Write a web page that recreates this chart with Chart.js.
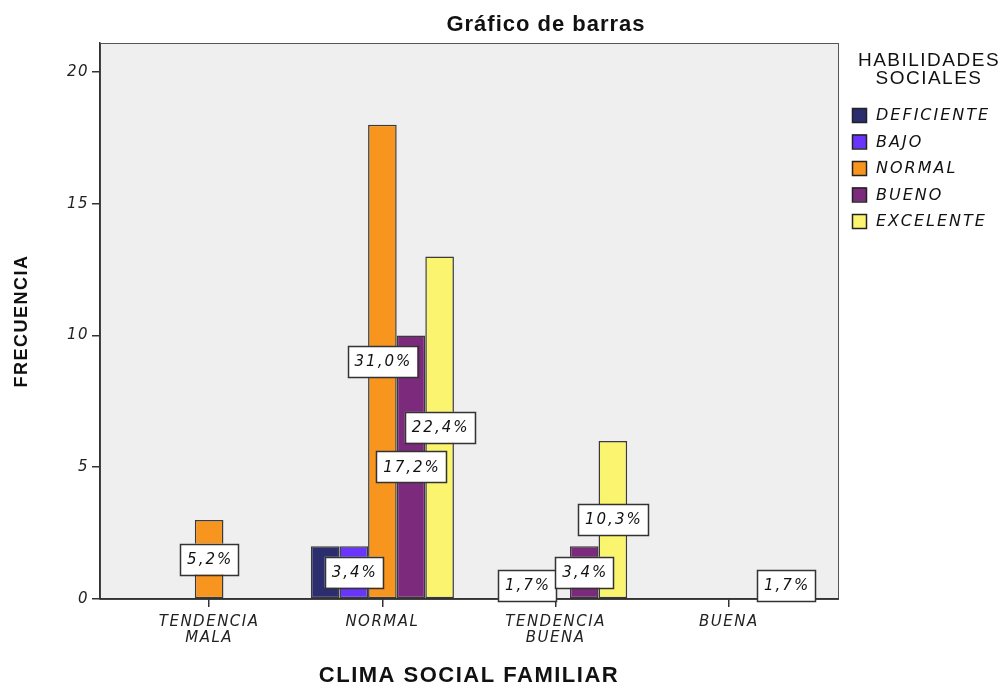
<!DOCTYPE html>
<html>
<head>
<meta charset="utf-8">
<script src="https://cdn.jsdelivr.net/npm/chart.js@4.4.0/dist/chart.umd.min.js"></script>
<style>
  body { margin: 0; background: #fff; }
</style>
</head>
<body>
<canvas id="chart" width="1008" height="689"></canvas>
<script>
// categories on the x axis (multi-line labels as arrays)
const categories = [['TENDENCIA', 'MALA'], 'NORMAL', ['TENDENCIA', 'BUENA'], 'BUENA'];
const seriesNames = ['DEFICIENTE', 'BAJO', 'NORMAL', 'BUENO', 'EXCELENTE'];

// frequencies per category, one array per series
const deficiente = [0, 2, 0, 0];
const bajo       = [0, 2, 1, 0];
const normal     = [3, 18, 0, 0];
const bueno      = [0, 10, 2, 0];
const excelente  = [0, 13, 6, 1];

const yTicks = [0, 5, 10, 15, 20];
// labels SPSS left out because they overlap: [series, category]
const hiddenLabels = [[0, 1]];

const seriesValues = [deficiente, bajo, normal, bueno, excelente];
const seriesColors = ['#2b2d6e', '#6a35fb', '#f7951f', '#7c2a7b', '#faf46e'];
const total = seriesValues.flat().reduce((a, b) => a + b, 0);

const labelFont = 'italic 15px "DejaVu Sans"';

const datasets = seriesNames.map((name, s) => ({
  label: name,
  data: seriesValues[s].map((v, i) => ({ x: i, y: v === 0 ? null : v })),
  backgroundColor: seriesColors[s],
  borderColor: '#3a3a3a',
  borderWidth: 1.5,
  borderSkipped: false,
  categoryPercentage: 0.826,
  barPercentage: 1
}));

const frame = {
  id: 'frame',
  beforeDraw(chart) {
    const { ctx, chartArea: a } = chart;
    ctx.save();
    ctx.fillStyle = '#efefef';
    ctx.fillRect(a.left, a.top, a.right - a.left, a.bottom - a.top);
    ctx.strokeStyle = '#555';
    ctx.lineWidth = 1;
    ctx.strokeRect(a.left + 0.5, a.top + 0.5, a.right - a.left, a.bottom - a.top);
    ctx.restore();
    // the source text is set wide; spread the letters
    ctx.letterSpacing = '1.5px';
  },
  afterDraw(chart) {
    const { ctx, chartArea: a } = chart;
    ctx.save();
    // title
    ctx.letterSpacing = '1px';
    ctx.fillStyle = '#111';
    ctx.font = 'bold 22px "Liberation Sans"';
    ctx.textAlign = 'center';
    ctx.textBaseline = 'middle';
    ctx.fillText('Gráfico de barras', 546, 25);
    // legend
    const lx = a.right + 14;
    ctx.letterSpacing = '1.5px';
    ctx.font = '19px "Liberation Sans"';
    ctx.fillText('HABILIDADES', lx + 77, 61);
    ctx.fillText('SOCIALES', lx + 77, 79);
    ctx.textAlign = 'left';
    ctx.letterSpacing = '2px';
    seriesNames.forEach((name, s) => {
      const y = 115 + s * 26.5;
      ctx.fillStyle = seriesColors[s];
      ctx.fillRect(lx, y - 7, 14, 14);
      ctx.strokeStyle = '#222';
      ctx.lineWidth = 1.5;
      ctx.strokeRect(lx + 0.5, y - 6.5, 14, 14);
      ctx.fillStyle = '#111';
      ctx.font = 'italic 16px "DejaVu Sans"';
      ctx.fillText(name, lx + 24, y + 1);
    });
    ctx.restore();
    ctx.letterSpacing = '0px';
  }
};

const pctLabels = {
  id: 'pctLabels',
  afterDatasetsDraw(chart) {
    const { ctx } = chart;
    ctx.save();
    ctx.font = labelFont;
    ctx.letterSpacing = '2px';
    ctx.textAlign = 'center';
    ctx.textBaseline = 'middle';
    chart.data.datasets.forEach((ds, s) => {
      chart.getDatasetMeta(s).data.forEach((el, i) => {
        const v = seriesValues[s][i];
        if (!v || hiddenLabels.some(h => h[0] === s && h[1] === i)) return;
        const txt = (v / total * 100).toFixed(1).replace('.', ',') + '%';
        const w = ctx.measureText(txt).width + 12;
        const h = 31;
        const cx = el.x, cy = (el.y + el.base) / 2;
        ctx.fillStyle = '#fff';
        ctx.fillRect(cx - w / 2, cy - h / 2, w, h);
        ctx.strokeStyle = '#333';
        ctx.lineWidth = 1.5;
        ctx.strokeRect(Math.round(cx - w / 2) + 0.5, Math.round(cy - h / 2) + 0.5, Math.round(w), h);
        ctx.fillStyle = '#111';
        ctx.fillText(txt, cx + 1, cy + 1);
      });
    });
    ctx.restore();
  }
};

new Chart(document.getElementById('chart'), {
  type: 'bar',
  data: { datasets },
  plugins: [frame, pctLabels],
  options: {
    responsive: false,
    animation: false,
    layout: { padding: { top: 43, right: 170, left: 0, bottom: 0 } },
    plugins: {
      legend: { display: false },
      tooltip: { enabled: false }
    },
    scales: {
      x: {
        type: 'linear',
        offset: false,
        min: -0.63,
        max: 3.63,
        afterBuildTicks: scale => { scale.ticks = categories.map((c, i) => ({ value: i })); },
        afterFit: scale => { scale.height = 90; },
        grid: { offset: false, drawOnChartArea: false, drawTicks: true, tickLength: 8, color: '#333', lineWidth: 1.5 },
        border: { display: true, color: '#333', width: 1.5 },
        ticks: {
          autoSkip: false,
          maxRotation: 0,
          padding: 7,
          color: '#222',
          font: { family: 'DejaVu Sans', style: 'italic', size: 15, lineHeight: 1.05 },
          callback: value => categories[value]
        },
        title: {
          display: true,
          text: 'CLIMA SOCIAL FAMILIAR',
          color: '#111',
          font: { family: 'Liberation Sans', weight: 'bold', size: 22 },
          padding: { top: 0, bottom: 0 }
        }
      },
      y: {
        min: 0,
        max: 21.1,
        afterBuildTicks: scale => { scale.ticks = yTicks.map(v => ({ value: v })); },
        afterFit: scale => { scale.width = 100; },
        grid: { drawOnChartArea: false, drawTicks: true, tickLength: 8, color: '#333', lineWidth: 1.5 },
        border: { display: true, color: '#333', width: 1.5 },
        ticks: {
          padding: 3,
          color: '#222',
          font: { family: 'DejaVu Sans', style: 'italic', size: 15 }
        },
        title: {
          display: true,
          text: 'FRECUENCIA',
          color: '#111',
          font: { family: 'Liberation Sans', weight: 'bold', size: 18 },
          padding: { top: 11, bottom: 0 }
        }
      }
    }
  }
});
</script>
</body>
</html>
